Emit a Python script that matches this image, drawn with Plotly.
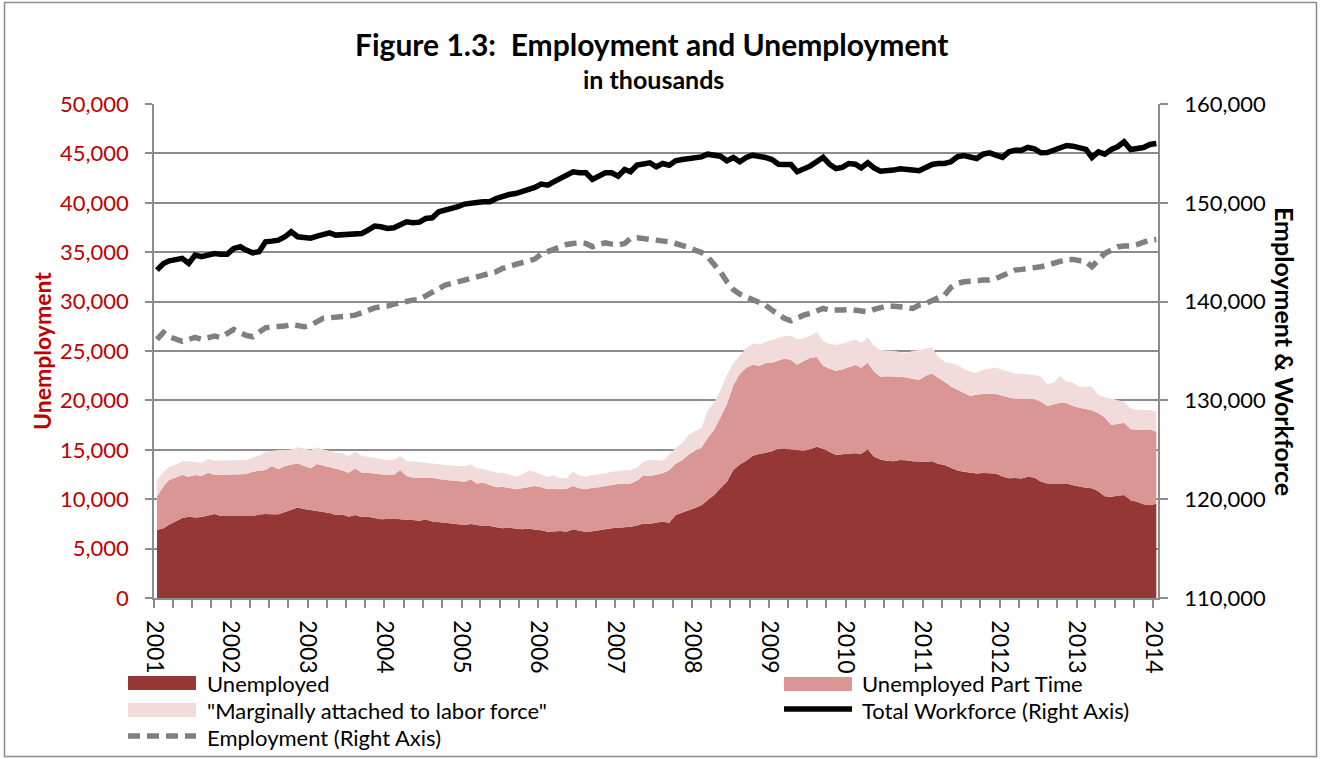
import pandas as pd
import plotly.graph_objects as go

# monthly, Jan 2001 - Jan 2014 (thousands)
months = pd.date_range("2001-01-01", periods=157, freq="MS") + pd.Timedelta(days=14)

unemployed = [
    6880, 7050, 7450, 7800, 8100, 8230, 8160, 8200, 8350, 8500, 8300, 8300, 8300,
    8250, 8230, 8300, 8450, 8500, 8470, 8480, 8700, 8900, 9170, 9000, 8900, 8850,
    8750, 8600, 8400, 8450, 8230, 8400, 8200, 8230, 8100, 7960, 8000, 8050, 7960,
    7950, 7900, 7830, 7950, 7750, 7650, 7620, 7550, 7450, 7380, 7480, 7400, 7300,
    7300, 7150, 7050, 7120, 7050, 6950, 7000, 6950, 6850, 6710, 6750, 6780, 6710,
    6950, 6800, 6710, 6750, 6850, 7000, 7050, 7100, 7120, 7200, 7350, 7550, 7490,
    7650, 7720, 7620, 8400, 8630, 8800, 9100, 9400, 9900, 10420, 11100, 11770, 12950,
    13500, 13900, 14400, 14570, 14700, 14850, 15100, 15150, 15040, 14950, 14910, 15050, 15300,
    15100, 14750, 14470, 14550, 14600, 14640, 14600, 15040, 14300, 14030, 13900, 13850, 13960,
    13950, 13850, 13800, 13800, 13850, 13600, 13460, 13200, 12900, 12780, 12700, 12610, 12650,
    12620, 12610, 12300, 12110, 12150, 12100, 12280, 12200, 11800, 11600, 11600, 11620, 11600,
    11400, 11250, 11150, 11100, 10800, 10300, 10250, 10350, 10420, 9900, 9750, 9500, 9400, 9550,
]

part_time = [
    3370, 4250, 4490, 4410, 4350, 4050, 4290, 4150, 4330, 3950, 4150, 4150, 4200,
    4270, 4320, 4480, 4420, 4450, 4890, 4540, 4660, 4600, 4460, 4360, 4220, 4710,
    4650, 4690, 4650, 4450, 4450, 4720, 4480, 4450, 4500, 4540, 4450, 4400, 4990,
    4400, 4280, 4350, 4230, 4430, 4400, 4390, 4350, 4390, 4390, 4520, 4200, 4370,
    4130, 4050, 4220, 4030, 3950, 4150, 4200, 4380, 4350, 4290, 4300, 4220, 4340,
    4380, 4300, 4290, 4400, 4350, 4330, 4400, 4440, 4440, 4400, 4550, 4850, 4860,
    4850, 4900, 5330, 5200, 5320, 5700, 5800, 5800, 6300, 6580, 7200, 7830, 8550,
    9200, 9400, 9200, 8910, 9050, 8960, 8900, 9100, 9040, 8650, 9090, 9250, 9100,
    8400, 8450, 8530, 8590, 8800, 8940, 8700, 8770, 8600, 8370, 8550, 8610, 8440,
    8380, 8350, 8260, 8700, 8880, 8700, 8430, 8200, 8150, 8000, 7740, 7990, 7990,
    8080, 8030, 8140, 8190, 8050, 8100, 7920, 7900, 8100, 7830, 8030, 8150, 8100,
    8030, 8000, 7940, 7900, 7900, 7980, 7260, 7300, 7320, 7170, 7250, 7500, 7670, 7280,
]

marginal = [
    1690, 1480, 1350, 1250, 1380, 1520, 1350, 1340, 1390, 1450, 1450, 1510, 1460,
    1440, 1410, 1420, 1530, 1860, 1550, 1960, 1620, 1540, 1620, 1780, 1860, 1690,
    1640, 1620, 1660, 1740, 1690, 1690, 1690, 1620, 1600, 1600, 1510, 1510, 1420,
    1480, 1650, 1620, 1520, 1420, 1450, 1450, 1500, 1520, 1530, 1530, 1520, 1380,
    1470, 1480, 1410, 1300, 1280, 1400, 1680, 1450, 1300, 1210, 1350, 1150, 1060,
    1450, 1300, 1280, 1300, 1310, 1270, 1330, 1340, 1360, 1350, 1300, 1400, 1680,
    1450, 1280, 1550, 1600, 1700, 2000, 2000, 1970, 2800, 2800, 2700, 3000, 2250,
    1800, 2000, 2170, 2190, 2150, 2300, 2300, 2260, 2430, 2600, 2300, 2210, 2550,
    2500, 2500, 2600, 2630, 2600, 2590, 2540, 2570, 2600, 2700, 2600, 2570, 2500,
    2430, 2830, 3040, 2760, 2620, 2120, 2010, 2350, 2530, 2420, 2460, 2200, 2460,
    2540, 2700, 2630, 2600, 2530, 2500, 2470, 2470, 2500, 2220, 2160, 2690, 2200,
    2360, 2140, 2300, 2390, 1840, 2030, 2690, 2390, 2130, 2120, 2050, 2020, 1950, 2030,
]

workforce = [
    143190, 143860, 144130, 144270, 144370, 143860, 144700, 144540, 144700, 144870, 144800, 144800, 145380,
    145550, 145210, 144940, 145040, 146050, 146120, 146220, 146560, 147070, 146560, 146460, 146420, 146630,
    146830, 146960, 146730, 146800, 146730, 146900, 146900, 147230, 147640, 147570, 147400, 147470, 147840,
    148080, 147980, 148040, 148410, 148480, 149090, 149260, 149330, 149600, 149870, 150000, 150030, 150100,
    150100, 150440, 150670, 150840, 150940, 151110, 151420, 151550, 151890, 151790, 152120, 152460, 152800,
    153140, 153040, 153040, 152360, 152700, 153040, 153040, 152700, 153370, 153140, 153810, 153980, 154050,
    153640, 153980, 153810, 154250, 154380, 154490, 154590, 154650, 154920, 154790, 154720, 154250, 154590,
    154150, 154590, 154820, 154760, 154590, 154380, 153910, 153880, 153880, 153140, 153410, 153710, 154150,
    154590, 153910, 153470, 153580, 153980, 153910, 153540, 154050, 153540, 153200, 153200, 153310, 153440,
    153440, 153310, 153240, 153640, 153880, 153980, 153980, 154150, 154650, 154790, 154650, 154490, 154920,
    155060, 154820, 154590, 155160, 155330, 155330, 155600, 155460, 155060, 155090, 155330, 155570, 155800,
    155730, 155500, 155400, 154590, 155160, 154920, 155400, 155670, 156170, 155400, 155500, 155600, 155900, 156000,
]

employment = [
    136170, 136880, 136440, 136170, 135970, 136170, 136370, 136170, 136340, 136510, 136370, 136710, 137180,
    136850, 136580, 136440, 136950, 137350, 137450, 137450, 137520, 137690, 137520, 137450, 137620, 137960,
    138300, 138360, 138400, 138430, 138470, 138630, 138870, 139140, 139370, 139480, 139540, 139750, 139910,
    140050, 140150, 140220, 140560, 140990, 141330, 141670, 141840, 142010, 142240, 142410, 142510, 142680,
    142780, 143020, 143360, 143630, 143760, 143930, 144130, 144300, 144810, 145040, 145350, 145550, 145780,
    145880, 145950, 145880, 145550, 145780, 145950, 145820, 145720, 145880, 146390, 146460, 146390, 146320,
    146120, 146050, 146050, 145880, 145720, 145480, 145210, 144970, 144540, 143860, 143020, 142010, 141230,
    140760, 140490, 140320, 140050, 139640, 139140, 138700, 138300, 138060, 138400, 138630, 138800, 139040,
    139310, 139140, 139070, 139140, 139210, 139140, 139070, 138970, 139210, 139410, 139540, 139540, 139540,
    139410, 139310, 139640, 139810, 140080, 140420, 140660, 141430, 141840, 142010, 142010, 142110, 142180,
    142180, 142350, 142680, 143020, 143190, 143260, 143330, 143430, 143530, 143690, 143860, 144100, 144270,
    144270, 144200, 144030, 143530, 144200, 144870, 145210, 145550, 145620, 145620, 145780, 146050, 146220, 146290,
]

for s in (unemployed, part_time, marginal, workforce, employment):
    assert len(s) == len(months), len(s)

DARK = "#953735"
MID = "#D99694"
LIGHT = "#F2DCDB"
GRAY = "#8C8C8C"
RED = "#C00000"
FONT = "Lato"

W, H = 1320, 759
ML, MR, MT, MB = 154, 162, 104, 161
PW, PH = W - ML - MR, H - MT - MB


def px(x):
    return (x - ML) / PW


def py(y):
    return (H - MB - y) / PH


fig = go.Figure()
fig.add_trace(go.Scatter(x=months, y=unemployed, name="Unemployed", stackgroup="u",
                         mode="lines", line=dict(width=0, color=DARK), fillcolor=DARK))
fig.add_trace(go.Scatter(x=months, y=part_time, name="Unemployed Part Time", stackgroup="u",
                         mode="lines", line=dict(width=0, color=MID), fillcolor=MID))
fig.add_trace(go.Scatter(x=months, y=marginal, name='"Marginally attached to labor force"',
                         stackgroup="u", mode="lines", line=dict(width=0, color=LIGHT),
                         fillcolor=LIGHT))
fig.add_trace(go.Scatter(x=months, y=workforce, name="Total Workforce (Right Axis)", yaxis="y2",
                         mode="lines", line=dict(color="black", width=5.5)))
fig.add_trace(go.Scatter(x=months, y=employment, name="Employment (Right Axis)", yaxis="y2",
                         mode="lines", line=dict(color="#808080", width=5.5, dash="12px,7px")))

tickstyle = dict(ticks="outside", tickcolor=GRAY, tickwidth=1.5, showline=True,
                 linecolor=GRAY, linewidth=1.5, zeroline=False)

fig.update_layout(
    width=W, height=H, autosize=False,
    margin=dict(l=ML, r=MR, t=MT, b=MB),
    paper_bgcolor="white", plot_bgcolor="white",
    showlegend=False,
    font=dict(family=FONT, size=22, color="black"),
    xaxis=dict(type="date", range=["2001-01-01", "2014-01-23"], tick0="2001-01-01",
               dtick="M12", tickformat="%Y", tickangle=90, ticklen=8, showgrid=False,
               ticklabelstandoff=8, tickfont=dict(size=23),
               minor=dict(dtick="M3", ticks="outside", ticklen=8, tickcolor=GRAY,
                          tickwidth=1.5, showgrid=False),
               **tickstyle),
    yaxis=dict(range=[0, 50000], dtick=5000, tickformat=",", showgrid=True,
               gridcolor=GRAY, gridwidth=1.5, ticklen=7, ticklabelstandoff=12,
               tickfont=dict(color=RED, size=22), **tickstyle),
    yaxis2=dict(range=[110000, 160000], dtick=10000, tickformat=",", overlaying="y",
                side="right", showgrid=False, ticklen=8, ticklabelstandoff=12,
                tickfont=dict(color="black", size=22), **tickstyle),
)

notes = [
    dict(text="<b>Figure 1.3:\u00a0 Employment and Unemployment</b>", x=px(651), y=py(44),
         font=dict(size=30), xanchor="center"),
    dict(text="<b>in thousands</b>", x=px(653), y=py(79), font=dict(size=25),
         xanchor="center"),
    dict(text="<b>Unemployment</b>", x=px(42), y=py(351), textangle=-90,
         font=dict(size=23, color=RED), xanchor="center"),
    dict(text="<b>Employment & Workforce</b>", x=px(1285), y=py(351), textangle=90,
         font=dict(size=25), xanchor="center"),
]

# legend, laid out as in the original two-column block
legend_rows = [
    ("Unemployed", 205, 683),
    ("Unemployed Part Time", 860, 683),
    ('"Marginally attached to labor force"', 205, 710),
    ("Total Workforce (Right Axis)", 860, 710),
    ("Employment (Right Axis)", 205, 737),
]
for text, lx, ly in legend_rows:
    notes.append(dict(text=text, x=px(lx), y=py(ly), xanchor="left", font=dict(size=22)))

for a in notes:
    a.update(xref="paper", yref="paper", showarrow=False, yanchor="middle")
    fig.add_annotation(**a)

shapes = [
    dict(type="rect", x0=px(4.5), x1=px(1316.5), y0=py(756.5), y1=py(2.5),
         line=dict(color=GRAY, width=1.5)),
    dict(type="rect", x0=px(128), x1=px(196), y0=py(690), y1=py(676),
         fillcolor=DARK, line=dict(width=0)),
    dict(type="rect", x0=px(784), x1=px(852), y0=py(691), y1=py(677),
         fillcolor=MID, line=dict(width=0)),
    dict(type="rect", x0=px(128), x1=px(196), y0=py(717), y1=py(703),
         fillcolor=LIGHT, line=dict(width=0)),
    dict(type="line", x0=px(784), x1=px(852), y0=py(709), y1=py(709),
         line=dict(color="black", width=5.5)),
    dict(type="line", x0=px(128), x1=px(196), y0=py(736), y1=py(736),
         line=dict(color="#808080", width=5.5, dash="12px,7px")),
]
for s in shapes:
    s.update(xref="paper", yref="paper")
    fig.add_shape(**s)

# the page's default 8px body margin would shift the whole figure
fig.write_html("out.html", config={"displayModeBar": False},
               post_script="document.body.style.margin='0';"
                           "document.body.style.overflow='hidden';")
